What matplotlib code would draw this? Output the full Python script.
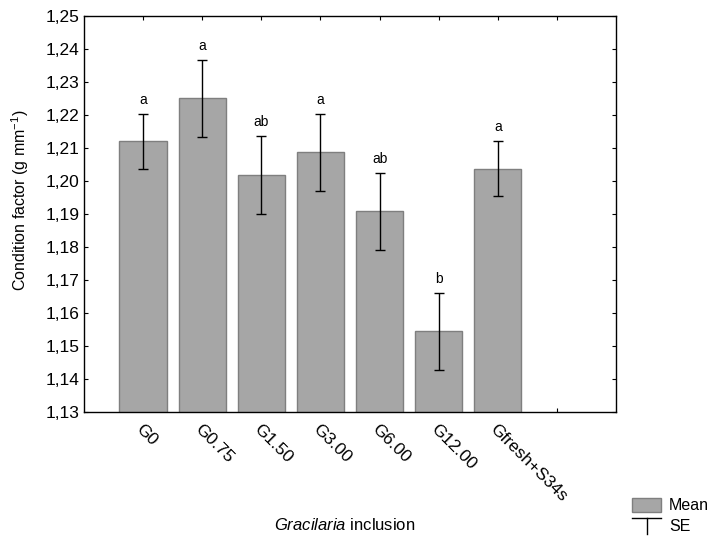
import matplotlib
matplotlib.use('Agg')
import matplotlib.pyplot as plt
from matplotlib.ticker import FuncFormatter, MultipleLocator
from matplotlib.patches import Patch
from matplotlib.lines import Line2D
from matplotlib.legend_handler import HandlerBase

plt.rcParams['font.family'] = ['Liberation Sans', 'DejaVu Sans']
plt.rcParams['mathtext.fontset'] = 'custom'
plt.rcParams['mathtext.rm'] = 'Liberation Sans'
plt.rcParams['mathtext.it'] = 'Liberation Sans:italic'

# data
groups = ['G0', 'G0.75', 'G1.50', 'G3.00', 'G6.00', 'G12.00', 'Gfresh+S34s']
means = [1.2120, 1.2250, 1.2018, 1.2087, 1.1908, 1.1544, 1.2037]
se = [0.0083, 0.0118, 0.0117, 0.0117, 0.0117, 0.0118, 0.0083]
letters = ['a', 'a', 'ab', 'a', 'ab', 'b', 'a']


class SEHandler(HandlerBase):
    # T-shaped whisker symbol for the legend
    def create_artists(self, legend, orig, xd, yd, w, h, fontsize, trans):
        ytop = yd + 0.8 * h
        top = Line2D([xd, xd + w], [ytop, ytop], color='black', lw=1.0, transform=trans)
        stem = Line2D([xd + w / 2, xd + w / 2], [ytop, yd - 0.3 * h], color='black', lw=1.0,
                      transform=trans)
        return [top, stem]


fig = plt.figure(figsize=(7.2, 5.38), dpi=100)
ax = fig.add_axes([0.1167, 0.2342, 0.7389, 0.7361])

x = list(range(len(groups)))
ax.bar(x, means, width=0.8, color='#a6a6a6', edgecolor='#7f7f7f', linewidth=1.0, zorder=2)
ax.errorbar(x, means, yerr=se, fmt='none', ecolor='black', elinewidth=1.0,
            capsize=3.5, capthick=1.0, zorder=3)

for xi, m, s, lab in zip(x, means, se, letters):
    ax.annotate(lab, (xi, m + s), xytext=(0, 5), textcoords='offset points',
                ha='center', va='bottom', fontsize=10)

ax.set_xlim(-1, 8)
ax.set_ylim(1.13, 1.25)
ax.yaxis.set_major_locator(MultipleLocator(0.01))
ax.yaxis.set_major_formatter(FuncFormatter(lambda v, p: f'{v:.2f}'.replace('.', ',')))
ax.set_xticks(list(range(8)))
ax.set_xticklabels(groups + [''], rotation=-45, ha='left', va='top', rotation_mode='anchor')
ax.tick_params(direction='in', top=True, right=True, length=3, labelsize=12.5, width=0.8)
ax.tick_params(axis='x', pad=7)
for sp in ax.spines.values():
    sp.set_linewidth(1.0)

ax.set_ylabel('Condition factor (g mm$^{-1}$)', fontsize=11.5)
ax.yaxis.set_label_coords(-0.10, 0.535)
ax.set_xlabel(r'$\it{Gracilaria}$ inclusion', fontsize=12)
ax.xaxis.set_label_coords(0.49, -0.265)

fig.legend([Patch(facecolor='#a6a6a6', edgecolor='#7f7f7f'), 'se'], ['Mean', 'SE'],
           handler_map={str: SEHandler()},
           loc='lower right', bbox_to_anchor=(1.005, -0.02), frameon=False,
           fontsize=11.5, handlelength=1.8, handleheight=1.0, handletextpad=0.5,
           labelspacing=0.35)

fig.savefig('out.png', dpi=100)
